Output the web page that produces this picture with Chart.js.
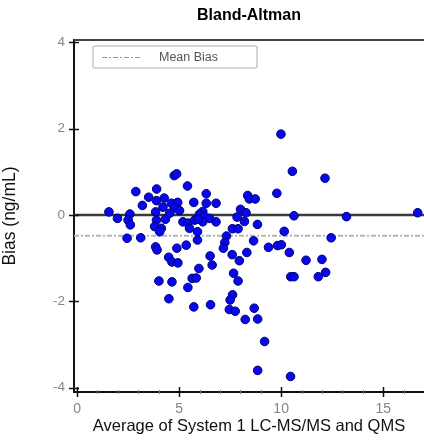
<!DOCTYPE html>
<html><head><meta charset="utf-8">
<script src="https://cdn.jsdelivr.net/npm/chart.js@4/dist/chart.umd.min.js"></script>
<style>html,body{margin:0;padding:0;background:#fff}#wrap{width:424px;height:443px;position:relative}</style>
</head><body><div id="wrap"><canvas id="c" width="424" height="443"></canvas></div>
<script>
// Average of the two methods (x) and bias (y)
const avgValues = [
 1.56,1.98,2.59,2.50,2.61,3.20,2.88,2.45,3.12,3.51,3.90,3.89,4.27,4.76,4.88,5.41,5.72,4.62,4.93,4.21,
 4.78,5.02,4.54,3.85,3.89,4.33,3.80,4.13,4.05,5.19,5.43,5.51,5.76,5.90,3.85,3.92,4.49,4.65,4.94,4.89,
 5.35,4.01,4.65,4.50,5.43,5.72,5.64,5.84,5.97,6.52,6.62,6.54,5.90,6.81,6.81,6.33,6.33,6.16,6.00,6.24,
 6.49,6.16,5.92,8.36,8.44,8.73,9.79,8.01,8.28,7.84,8.20,8.84,10.15,7.61,7.89,7.32,7.24,7.17,8.65,9.38,
 9.82,10.01,10.40,8.32,7.60,7.95,7.67,7.89,7.62,7.50,7.46,7.75,8.68,8.24,8.85,9.19,8.85,10.46,9.99,10.55,
 12.15,10.63,13.20,16.69,12.45,11.22,12.00,12.18,11.82,10.47,10.63
];
const biasValues = [
 0.07,-0.08,0.02,-0.12,-0.23,0.22,0.54,-0.54,-0.53,0.41,0.60,0.33,0.39,0.91,0.95,0.67,0.29,0.27,0.29,0.18,
 0.16,0.10,0.04,0.07,-0.12,-0.10,-0.27,-0.31,-0.39,-0.16,-0.19,-0.31,-0.12,-0.58,-0.74,-0.81,-0.98,-1.09,-1.11,-0.77,
 -0.70,-1.53,-1.55,-1.94,-1.68,-2.13,-1.47,-1.46,-1.24,-0.95,-1.16,-2.08,-0.39,-0.16,0.27,0.27,0.49,0.08,0.02,-0.04,
 -0.08,-0.16,-0.10,0.45,0.37,0.37,0.50,0.13,0.05,-0.05,-0.15,-0.22,-0.38,-0.32,-0.32,-0.49,-0.64,-0.77,-0.60,-0.75,
 -0.71,-0.69,-0.87,-0.87,-0.92,-1.06,-1.35,-1.53,-1.85,-1.97,-2.19,-2.23,-2.16,-2.42,-2.41,-2.93,-3.60,-3.74,1.87,1.01,
 0.85,-0.02,-0.04,0.05,-0.53,-1.05,-1.03,-1.33,-1.43,-1.43,-1.43
];
const meanBias = -0.48;
const zeroBias = 0;
const xRange = [-0.15, 17];
const yRange = [-4.1, 4.05];
const xTicks = [0, 5, 10, 15];
const xMinorTicks = [1,2,3,4,6,7,8,9,11,12,13,14,16];
const yTicks = [-4, -2, 0, 2, 4];
const legendLabel = 'Mean Bias';

const FONT = "'Liberation Sans Narrow','Arial Narrow','Liberation Sans',Arial,sans-serif";

const points = avgValues.map((x, i) => ({x, y: biasValues[i]}));

const decor = {
  id: 'decor',
  afterDatasetsDraw(chart) {
    const {ctx, chartArea: a, scales: {x, y}} = chart;
    ctx.save();
    ctx.strokeStyle = '#444'; ctx.lineWidth = 2;
    ctx.beginPath(); ctx.moveTo(a.left, a.top); ctx.lineTo(a.right, a.top); ctx.stroke();
    ctx.strokeStyle = '#111'; ctx.lineWidth = 1.5;
    yTicks.forEach(v => {
      const p = Math.round(y.getPixelForValue(v)) + 0.5;
      ctx.beginPath(); ctx.moveTo(a.left - 5, p); ctx.lineTo(a.left + 5, p); ctx.stroke();
    });
    xTicks.forEach(v => {
      const p = Math.round(x.getPixelForValue(v)) + 0.5;
      ctx.beginPath(); ctx.moveTo(p, a.bottom - 5); ctx.lineTo(p, a.bottom + 5); ctx.stroke();
    });
    ctx.strokeStyle = '#777'; ctx.lineWidth = 1;
    xMinorTicks.forEach(v => {
      const p = Math.round(x.getPixelForValue(v)) + 0.5;
      ctx.beginPath(); ctx.moveTo(p, a.bottom - 2); ctx.lineTo(p, a.bottom + 2); ctx.stroke();
    });
    const bx = a.left + 19, by = a.top + 6, bw = 164, bh = 22;
    ctx.strokeStyle = '#c8c8c8'; ctx.lineWidth = 1.5;
    ctx.beginPath();
    if (ctx.roundRect) ctx.roundRect(bx, by, bw, bh, 2); else ctx.rect(bx, by, bw, bh);
    ctx.fillStyle = '#fff'; ctx.fill(); ctx.stroke();
    ctx.strokeStyle = '#999'; ctx.lineWidth = 1; ctx.setLineDash([5, 2, 2, 2]);
    ctx.beginPath(); ctx.moveTo(bx + 9, by + 11.5); ctx.lineTo(bx + 49, by + 11.5); ctx.stroke();
    ctx.setLineDash([]);
    ctx.fillStyle = '#555'; ctx.font = "12.5px " + FONT; ctx.textBaseline = 'middle'; ctx.textAlign = 'left';
    ctx.fillText(legendLabel, bx + 66, by + 11.5);
    ctx.restore();
  }
};

new Chart(document.getElementById('c'), {
  type: 'scatter',
  data: {
    datasets: [
      {
        label: 'Bias', data: points, order: 0,
        backgroundColor: '#0808f0', borderColor: '#000070', borderWidth: 1,
        pointRadius: 4.3, pointHoverRadius: 4.3
      },
      {
        type: 'line', label: legendLabel, order: 1,
        data: xRange.map(v => ({x: v, y: meanBias})),
        borderColor: '#b5b5b5', borderWidth: 2, borderDash: [5, 2, 2, 2], pointRadius: 0, fill: false
      },
      {
        type: 'line', label: 'Zero', order: 2,
        data: xRange.map(v => ({x: v, y: zeroBias})),
        borderColor: '#3a3a3a', borderWidth: 2.5, pointRadius: 0, fill: false
      }
    ]
  },
  options: {
    responsive: false, animation: false, devicePixelRatio: 1,
    layout: {autoPadding: false, padding: {left: 0, right: 0, top: 0, bottom: 0}},
    plugins: {
      legend: {display: false}, tooltip: {enabled: false},
      title: {
        display: true, text: 'Bland-Altman', color: '#000', fullSize: false,
        font: {family: FONT, size: 16, weight: 'bold', lineHeight: 1.2},
        padding: {top: 5.5, bottom: 15.3}
      }
    },
    scales: {
      x: {
        type: 'linear', min: xRange[0], max: xRange[1],
        afterBuildTicks: s => { s.ticks = xTicks.map(v => ({value: v})); },
        afterFit: s => { s.height = 51; s.paddingLeft = 0; s.paddingRight = 0; },
        grid: {display: false, drawTicks: false},
        border: {display: true, color: '#111', width: 2},
        ticks: {color: '#858585', padding: 9, font: {family: FONT, size: 14}, maxRotation: 0},
        title: {display: true, text: 'Average of System 1 LC-MS/MS and QMS', color: '#111',
          font: {family: FONT, size: 16.5}, padding: {top: 0, bottom: 6.5}}
      },
      y: {
        type: 'linear', min: yRange[0], max: yRange[1],
        afterBuildTicks: s => { s.ticks = yTicks.map(v => ({value: v})); },
        afterFit: s => { s.width = 74; s.paddingTop = 0; s.paddingBottom = 0; },
        grid: {display: false, drawTicks: false},
        border: {display: true, color: '#111', width: 2},
        ticks: {color: '#858585', padding: 9, font: {family: FONT, size: 13.5}},
        title: {display: true, text: 'Bias (ng/mL)', color: '#111',
          font: {family: FONT, size: 17.5}, padding: {top: 0, bottom: 0}}
      }
    }
  },
  plugins: [decor]
});
</script>
</body></html>
